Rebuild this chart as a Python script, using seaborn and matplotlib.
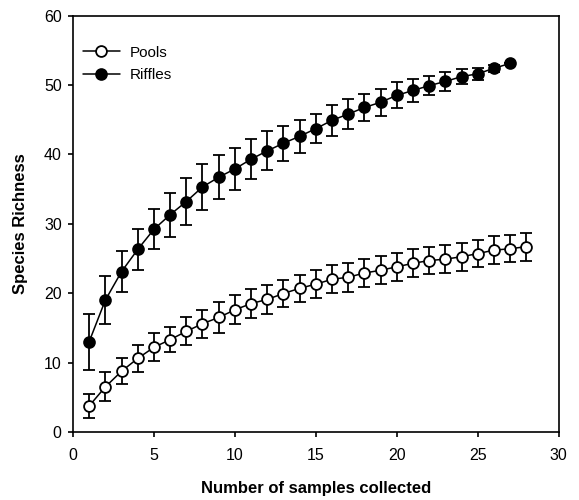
import matplotlib

matplotlib.use("Agg")

import matplotlib.pyplot as plt
import pandas as pd
import seaborn as sns

# species accumulation means and error bars
riffles_n = list(range(1, 28))
riffles_mean = [13.0, 19.0, 23.1, 26.3, 29.2, 31.3, 33.2, 35.3, 36.7, 37.9,
                39.3, 40.5, 41.6, 42.6, 43.7, 44.9, 45.8, 46.75, 47.5, 48.5,
                49.2, 49.9, 50.5, 51.2, 51.6, 52.4, 53.1]
riffles_err = [4.0, 3.5, 3.0, 3.0, 2.9, 3.2, 3.4, 3.3, 3.2, 3.05,
               2.9, 2.8, 2.5, 2.4, 2.1, 2.2, 2.1, 2.0, 1.95, 1.85,
               1.65, 1.4, 1.4, 1.1, 0.9, 0.5, 0.0]

pools_n = list(range(1, 29))
pools_mean = [3.75, 6.5, 8.75, 10.6, 12.2, 13.3, 14.5, 15.6, 16.5, 17.6,
              18.5, 19.1, 19.95, 20.7, 21.3, 22.0, 22.3, 22.9, 23.3, 23.8,
              24.3, 24.7, 24.9, 25.25, 25.7, 26.2, 26.4, 26.7]
pools_err = [1.7, 2.1, 1.85, 2.0, 2.0, 1.8, 2.0, 2.0, 2.2, 2.1,
             2.1, 2.1, 2.0, 1.95, 2.05, 2.0, 2.1, 2.05, 2.0, 2.0,
             2.0, 1.95, 2.0, 2.0, 1.9, 2.05, 1.95, 2.0]

sns.set_theme(style="ticks")
plt.rcParams.update(
    {
        "font.family": ["Liberation Sans", "DejaVu Sans"],
        "text.color": "black",
        "axes.labelcolor": "black",
        "xtick.color": "black",
        "ytick.color": "black",
    }
)

df = pd.concat(
    [
        pd.DataFrame({"n": pools_n, "richness": pools_mean, "err": pools_err, "habitat": "Pools"}),
        pd.DataFrame({"n": riffles_n, "richness": riffles_mean, "err": riffles_err, "habitat": "Riffles"}),
    ],
    ignore_index=True,
)

fig = plt.figure(figsize=(5.79, 5.0), dpi=100)
ax = fig.add_axes([0.126, 0.136, 0.839, 0.833])

face = {"Pools": "white", "Riffles": "black"}
for habitat, group in df.groupby("habitat"):
    ax.errorbar(group["n"], group["richness"], yerr=group["err"], fmt="none",
                ecolor="black", elinewidth=1.3, capsize=4.0, capthick=1.3, zorder=2)
    sns.lineplot(data=group, x="n", y="richness", ax=ax, color="black",
                 linewidth=1.1, marker="o", markersize=7.8,
                 markerfacecolor=face[habitat], markeredgecolor="black",
                 markeredgewidth=1.3, label=habitat, zorder=3)

ax.set_xlim(0, 30)
ax.set_ylim(0, 60)
ax.set_xticks(range(0, 31, 5))
ax.set_yticks(range(0, 61, 10))
for side in ax.spines.values():
    side.set_color("black")
    side.set_linewidth(1.2)
ax.tick_params(axis="both", direction="out", length=3.6, width=1.2, colors="black",
               labelsize=11.5, top=False, right=False)
ax.tick_params(axis="x", pad=8)
ax.tick_params(axis="y", pad=4.5)
ax.set_xlabel("Number of samples collected", fontsize=12, fontweight="bold",
              va="center", color="black")
ax.set_ylabel("Species Richness", fontsize=12, fontweight="bold",
              va="center", color="black")
ax.xaxis.set_label_coords(0.5, -0.135)
ax.yaxis.set_label_coords(-0.107, 0.5)

ax.legend(loc="upper left", frameon=False, fontsize=11, handlelength=2.4,
          handletextpad=0.65, borderaxespad=0, labelspacing=0.55,
          bbox_to_anchor=(0.008, 0.942), labelcolor="black")

fig.savefig("out.png", dpi=100)
